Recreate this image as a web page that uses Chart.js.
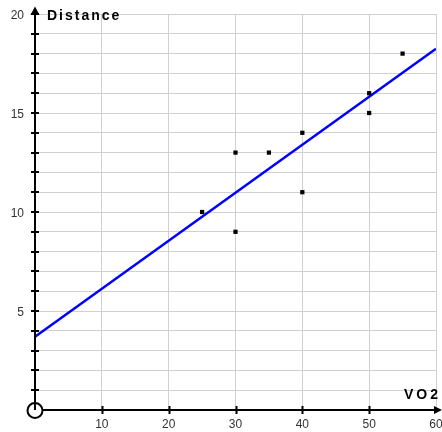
<!DOCTYPE html>
<html>
<head>
<meta charset="utf-8">
<script src="https://cdn.jsdelivr.net/npm/chart.js@4/dist/chart.umd.min.js"></script>
<style>
html,body{margin:0;padding:0;background:#fff;}
#wrap{width:442px;height:432px;}
</style>
</head>
<body>
<div id="wrap"><canvas id="c" width="442" height="432"></canvas></div>
<script>
// Data
const vo2 = [25, 30, 30, 35, 40, 40, 50, 50, 55];
const distance = [10, 13, 9, 13, 14, 11, 16, 15, 18];
const fitX = [0, 60];
const fitY = [3.7, 18.25];
const xTickLabels = [10, 20, 30, 40, 50, 60];
const yTickLabels = [5, 10, 15, 20];
const xTitle = 'VO2';
const yTitle = 'Distance';

const points = vo2.map((x, i) => ({x: x, y: distance[i]}));
const fitLine = fitX.map((x, i) => ({x: x, y: fitY[i]}));

const FONT = '"Liberation Sans", Arial, sans-serif';

const axesPlugin = {
  id: 'axesDecor',
  afterDatasetsDraw(chart) {
    const ctx = chart.ctx;
    const xs = chart.scales.x, ys = chart.scales.y;
    const ox = xs.getPixelForValue(0), oy = ys.getPixelForValue(0);
    const top = ys.getPixelForValue(20);
    const right = xs.getPixelForValue(60);
    ctx.save();
    ctx.strokeStyle = '#000';
    ctx.fillStyle = '#000';
    ctx.lineWidth = 2;
    // y axis
    ctx.beginPath();
    ctx.moveTo(ox, oy);
    ctx.lineTo(ox, 10);
    ctx.stroke();
    // x axis
    ctx.beginPath();
    ctx.moveTo(ox, oy);
    ctx.lineTo(437, oy);
    ctx.stroke();
    // arrows
    ctx.beginPath();
    ctx.moveTo(ox, 6.5);
    ctx.lineTo(ox - 4.5, 15);
    ctx.lineTo(ox + 4.5, 15);
    ctx.closePath();
    ctx.fill();
    ctx.beginPath();
    ctx.moveTo(442, oy);
    ctx.lineTo(434, oy - 4);
    ctx.lineTo(434, oy + 4);
    ctx.closePath();
    ctx.fill();
    // y ticks every 1
    for (let v = 1; v <= 20; v++) {
      const py = Math.round(ys.getPixelForValue(v));
      ctx.beginPath();
      ctx.moveTo(ox - 4, py);
      ctx.lineTo(ox + 4, py);
      ctx.stroke();
    }
    // x ticks
    for (const v of xTickLabels) {
      if (v >= 60) continue;
      const px = Math.round(xs.getPixelForValue(v)) + 0.5;
      ctx.beginPath();
      ctx.moveTo(px, oy - 4);
      ctx.lineTo(px, oy + 4);
      ctx.stroke();
    }
    // origin circle
    ctx.beginPath();
    ctx.arc(ox, oy + 0.5, 7.5, 0, Math.PI * 2);
    ctx.fillStyle = '#fff';
    ctx.fill();
    ctx.stroke();
    ctx.beginPath();
    ctx.moveTo(ox, oy - 7);
    ctx.lineTo(ox, oy);
    ctx.stroke();
    // titles
    ctx.fillStyle = '#000';
    ctx.font = 'bold 14px ' + FONT;
    ctx.textBaseline = 'alphabetic';
    ctx.textAlign = 'left';
    try { ctx.letterSpacing = '2px'; } catch (e) {}
    ctx.fillText(yTitle, 47, 19.5);
    try { ctx.letterSpacing = '3px'; } catch (e) {}
    ctx.fillText(xTitle, 404, 398.5);
    ctx.restore();
  }
};

new Chart(document.getElementById('c'), {
  type: 'scatter',
  data: {
    datasets: [
      {
        label: 'fit',
        type: 'line',
        data: fitLine,
        borderColor: '#0000ff',
        borderWidth: 2.5,
        pointRadius: 0,
        fill: false,
        order: 2
      },
      {
        label: 'data',
        data: points,
        pointStyle: 'rect',
        pointRadius: 3,
        pointBorderWidth: 0,
        backgroundColor: '#000',
        borderColor: '#000',
        order: 1
      }
    ]
  },
  plugins: [axesPlugin],
  options: {
    responsive: false,
    animation: false,
    events: [],
    layout: { padding: { top: 14, right: 6, left: 0, bottom: 0 } },
    plugins: { legend: { display: false }, tooltip: { enabled: false } },
    scales: {
      x: {
        type: 'linear',
        min: 0, max: 60,
        border: { display: false },
        grid: { color: '#d0d0d0', lineWidth: 1, drawTicks: false },
        ticks: {
          stepSize: 10,
          autoSkip: false,
          maxRotation: 0,
          padding: 7,
          color: '#333',
          font: { family: FONT, size: 12 },
          callback: (v) => xTickLabels.includes(v) ? String(v) : ''
        },
        afterFit(s) { s.height = 22; s.paddingLeft = 0; s.paddingRight = 0; }
      },
      y: {
        type: 'linear',
        min: 0, max: 20,
        border: { display: false },
        grid: { color: '#d0d0d0', lineWidth: 1, drawTicks: false },
        ticks: {
          stepSize: 1,
          autoSkip: false,
          padding: 11,
          labelOffset: 2,
          color: '#333',
          font: { family: FONT, size: 12 },
          callback: (v) => yTickLabels.includes(v) ? String(v) : ''
        },
        afterFit(s) { s.width = 35; s.paddingTop = 0; s.paddingBottom = 0; }
      }
    }
  }
});
</script>
</body>
</html>
